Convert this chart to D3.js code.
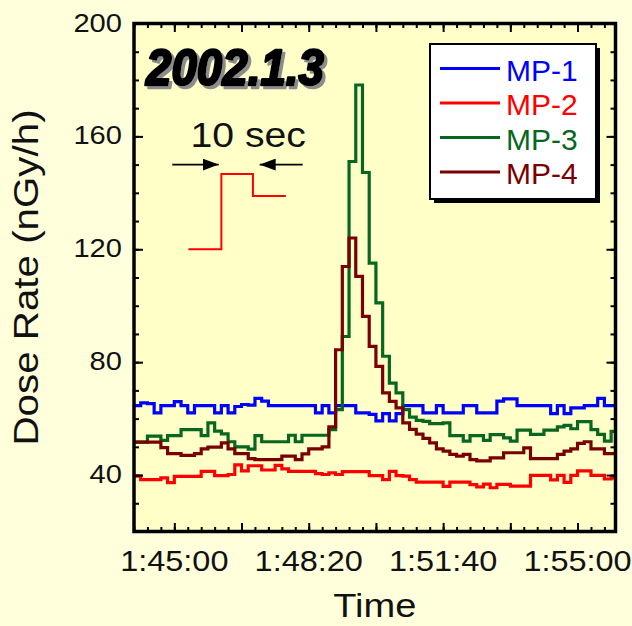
<!DOCTYPE html>
<html>
<head>
<meta charset="utf-8">
<script src="https://cdn.jsdelivr.net/npm/d3@7"></script>
<style>
  html, body { margin: 0; padding: 0; background: #ffffdc; }
  svg { display: block; }
  text { font-family: "Liberation Sans", Arial, sans-serif; }
</style>
</head>
<body>
<div id="chart"></div>
<script>
// time in seconds of day, 1:44:00 = 6240, one sample every 10 s
const startSec = 6240;
const endSec = 6956.5;
const stepSec = 10;

const seriesNames = ["MP-1", "MP-2", "MP-3", "MP-4"];
const seriesColors = ["#0000ff", "#ff0000", "#08661e", "#7a0000"];

const mp1 = [64.6, 65.6, 65.3, 62.0, 64.6, 64.6, 66.0, 64.6, 62.0, 64.6,
             64.6, 64.6, 62.0, 64.6, 62.0, 64.3, 65.0, 64.8, 67.2, 66.2,
             64.6, 64.6, 64.6, 64.6, 64.6, 64.6, 64.6, 62.0, 64.6, 62.0,
             64.6, 64.6, 64.6, 62.0, 62.0, 61.5, 59.2, 61.8, 59.2, 61.8,
             64.6, 64.6, 64.6, 62.0, 62.0, 64.6, 62.0, 62.0, 62.0, 64.6,
             64.6, 62.0, 62.0, 62.0, 66.2, 67.0, 67.0, 64.6, 64.6, 64.6,
             64.6, 64.6, 61.8, 64.6, 61.8, 63.8, 63.8, 64.6, 64.6, 67.2,
             64.6, 64.6];

const mp2 = [39.6, 38.4, 38.4, 38.4, 39.0, 37.3, 39.5, 39.5, 39.5, 39.5,
             41.3, 41.3, 39.8, 39.8, 40.2, 43.6, 41.5, 43.3, 43.3, 41.8,
             41.8, 43.4, 42.2, 41.3, 41.3, 41.3, 41.3, 40.5, 40.2, 40.8,
             40.2, 41.2, 41.2, 41.2, 41.2, 39.8, 39.8, 38.4, 41.3, 39.8,
             39.6, 38.4, 37.5, 37.5, 37.5, 37.5, 36.0, 37.5, 37.5, 37.5,
             36.6, 35.8, 36.8, 35.5, 36.7, 36.7, 36.1, 36.1, 36.1, 39.9,
             39.9, 39.9, 38.3, 39.9, 37.4, 39.9, 41.5, 41.5, 39.9, 39.9,
             38.6, 39.0];

const mp3 = [51.7, 51.7, 53.8, 53.8, 52.3, 54.0, 54.0, 56.1, 56.1, 56.1,
             54.0, 58.5, 55.6, 54.6, 51.8, 50.0, 50.0, 49.2, 54.0, 51.8,
             51.8, 51.8, 51.8, 54.1, 51.8, 54.1, 54.1, 54.1, 54.1, 56.1,
             63.2, 89.1, 151.1, 178.2, 147.2, 115.1, 101.0, 82.1, 72.6, 69.1,
             63.2, 60.5, 59.4, 59.0, 58.2, 58.2, 58.5, 54.0, 54.0, 52.0,
             54.0, 54.0, 52.3, 54.3, 54.3, 53.2, 52.0, 55.9, 55.9, 54.4,
             54.4, 55.9, 55.9, 57.1, 57.6, 56.4, 58.9, 58.9, 56.1, 54.4,
             52.0, 55.5];

const mp4 = [51.7, 51.7, 51.7, 51.7, 49.7, 47.6, 47.6, 47.0, 47.0, 47.6,
             49.3, 49.9, 49.9, 51.4, 49.3, 47.6, 47.6, 45.8, 45.5, 45.5,
             45.5, 45.5, 46.7, 46.7, 45.5, 47.5, 49.3, 49.3, 50.0, 57.1,
             84.4, 113.9, 124.0, 110.4, 96.2, 85.6, 78.5, 69.1, 66.1, 63.8,
             58.5, 56.2, 54.5, 53.0, 51.4, 49.3, 48.5, 47.3, 46.7, 47.3,
             45.5, 45.0, 45.0, 46.1, 46.1, 47.9, 47.9, 47.9, 49.6, 45.8,
             45.8, 45.8, 45.8, 47.3, 48.5, 49.3, 51.2, 51.8, 49.3, 49.3,
             47.6, 47.6];

const xMajorTicks = d3.range(6300, 6901, 100);
const xMinorTicks = d3.range(6240, 6957, 20);
const xLabelTicks = [6300, 6500, 6700, 6900];
const yMajorTicks = [40, 80, 120, 160, 200];
const yMinorTicks = d3.range(20, 201, 10);

// "10 sec" sketch: one step of MP-2 style trace
const insetTimes = [6321, 6370, 6417, 6466];
const insetValues = [120, 146.7, 138.9, 138.9];
const insetLabelTime = 6410;
const arrowLevel = 150;

const W = 632, H = 626;
const margin = { top: 23.5, right: 16.5, bottom: 94.5, left: 134 };
const plotW = W - margin.left - margin.right;
const plotH = H - margin.top - margin.bottom;
const stretch = 1.12;

const x = d3.scaleLinear().domain([startSec, endSec]).range([margin.left, margin.left + plotW]);
const y = d3.scaleLinear().domain([20, 200]).range([margin.top + plotH, margin.top]);

const fmt = s => {
    const pad = n => String(n).padStart(2, "0");
    return `${Math.floor(s / 3600)}:${pad(Math.floor(s % 3600 / 60))}:${pad(s % 60)}`;
};

const svg = d3.select("#chart").append("svg")
    .attr("width", W)
    .attr("height", H);

const defs = svg.append("defs");

svg.append("rect").attr("width", W).attr("height", H).attr("fill", "#ffffdc");

svg.append("rect")
    .attr("x", margin.left).attr("y", margin.top)
    .attr("width", plotW).attr("height", plotH)
    .attr("fill", "#ffffc8");

defs.append("clipPath").attr("id", "clip")
    .append("rect")
    .attr("x", margin.left).attr("y", margin.top)
    .attr("width", plotW).attr("height", plotH);

const line = d3.line()
    .x(d => x(d[0]))
    .y(d => y(d[1]))
    .curve(d3.curveStepAfter);

const allSeries = [mp1, mp2, mp3, mp4];
allSeries.forEach((vals, i) => {
    const pts = vals.map((v, k) => [startSec + k * stepSec, v]);
    pts.push([startSec + vals.length * stepSec, vals[vals.length - 1]]);
    svg.append("path")
        .datum(pts)
        .attr("clip-path", "url(#clip)")
        .attr("fill", "none")
        .attr("stroke", seriesColors[i])
        .attr("stroke-width", 3.2)
        .attr("d", line);
});

// ticks, inward on all four sides
function tickGroup(axis, tx, ty) {
    const g = svg.append("g").attr("transform", `translate(${tx},${ty})`).call(axis);
    g.select(".domain").remove();
    g.selectAll("line").attr("stroke", "#000").attr("stroke-width", 2);
    g.selectAll("text").remove();
}
tickGroup(d3.axisBottom(x).tickValues(xMinorTicks).tickSize(-4.5), 0, margin.top + plotH);
tickGroup(d3.axisBottom(x).tickValues(xMajorTicks).tickSize(-8.5), 0, margin.top + plotH);
tickGroup(d3.axisTop(x).tickValues(xMinorTicks).tickSize(-4.5), 0, margin.top);
tickGroup(d3.axisTop(x).tickValues(xMajorTicks).tickSize(-8.5), 0, margin.top);
tickGroup(d3.axisLeft(y).tickValues(yMinorTicks).tickSize(-5), margin.left, 0);
tickGroup(d3.axisLeft(y).tickValues(yMajorTicks).tickSize(-9), margin.left, 0);
tickGroup(d3.axisRight(y).tickValues(yMinorTicks).tickSize(-5), margin.left + plotW, 0);
tickGroup(d3.axisRight(y).tickValues(yMajorTicks).tickSize(-9), margin.left + plotW, 0);

svg.append("rect")
    .attr("x", margin.left).attr("y", margin.top)
    .attr("width", plotW).attr("height", plotH)
    .attr("fill", "none")
    .attr("stroke", "#000")
    .attr("stroke-width", 3.5);

// tick labels
svg.append("g").selectAll("text")
    .data(yMajorTicks)
    .join("text")
    .attr("transform", d => `translate(${margin.left - 12},${y(d) + 8}) scale(${stretch},1)`)
    .attr("text-anchor", "end")
    .attr("font-size", 26)
    .attr("fill", "#111")
    .text(d => d);

svg.append("g").selectAll("text")
    .data(xLabelTicks)
    .join("text")
    .attr("transform", d => `translate(${x(d)},${571}) scale(${stretch},1)`)
    .attr("text-anchor", "middle")
    .attr("font-size", 29)
    .attr("fill", "#111")
    .text(d => fmt(d));

// axis titles
svg.append("text")
    .attr("transform", `translate(${margin.left + plotW / 2},${617}) scale(${stretch},1)`)
    .attr("text-anchor", "middle")
    .attr("font-size", 34)
    .attr("fill", "#111")
    .text("Time");

svg.append("text")
    .attr("transform", `translate(38,${margin.top + plotH / 2}) rotate(-90) scale(${stretch},1)`)
    .attr("text-anchor", "middle")
    .attr("font-size", 36)
    .attr("fill", "#111")
    .text("Dose Rate (nGy/h)");

// date title with grey drop shadow
const shadow = defs.append("filter").attr("id", "shadow")
    .attr("x", "-10%").attr("y", "-20%").attr("width", "130%").attr("height", "150%");
shadow.append("feDropShadow")
    .attr("dx", 3).attr("dy", 3)
    .attr("stdDeviation", 0.6)
    .attr("flood-color", "#8c8c8c")
    .attr("flood-opacity", 1);

svg.append("text")
    .attr("x", 146).attr("y", 85)
    .attr("font-size", 50)
    .attr("font-weight", "bold")
    .attr("font-style", "italic")
    .attr("textLength", 178)
    .attr("lengthAdjust", "spacingAndGlyphs")
    .attr("fill", "#000")
    .attr("stroke", "#000")
    .attr("stroke-width", 2.5)
    .attr("stroke-linejoin", "round")
    .attr("filter", "url(#shadow)")
    .text("2002.1.3");

// 10 sec sketch
const insetPts = insetTimes.map((t, i) => [t, insetValues[i]]);
svg.append("path")
    .datum(insetPts)
    .attr("fill", "none")
    .attr("stroke", "#ff0000")
    .attr("stroke-width", 2)
    .attr("d", line);

svg.append("text")
    .attr("transform", `translate(${x(insetLabelTime)},${147}) scale(${stretch},1)`)
    .attr("text-anchor", "middle")
    .attr("font-size", 35)
    .attr("fill", "#111")
    .text("10 sec");

defs.append("marker")
    .attr("id", "arrow")
    .attr("viewBox", "0 0 16 12")
    .attr("refX", 16).attr("refY", 6)
    .attr("markerWidth", 16).attr("markerHeight", 12)
    .attr("markerUnits", "userSpaceOnUse")
    .attr("orient", "auto")
    .append("path")
    .attr("d", "M0,0 L16,6 L0,12 Z")
    .attr("fill", "#000");

const arrows = [[6297, insetTimes[1] - 4], [6491, insetTimes[2] + 10]];
arrows.forEach(([from, to]) => {
    svg.append("line")
        .attr("x1", x(from)).attr("x2", x(to))
        .attr("y1", y(arrowLevel)).attr("y2", y(arrowLevel))
        .attr("stroke", "#000")
        .attr("stroke-width", 1.6)
        .attr("marker-end", "url(#arrow)");
});

// legend
const lg = { x: 430, y: 44, w: 166, h: 155 };
svg.append("rect")
    .attr("x", lg.x + 4).attr("y", lg.y + 4)
    .attr("width", lg.w).attr("height", lg.h)
    .attr("fill", "#000");
svg.append("rect")
    .attr("x", lg.x).attr("y", lg.y)
    .attr("width", lg.w).attr("height", lg.h)
    .attr("fill", "#fff")
    .attr("stroke", "#000")
    .attr("stroke-width", 2);

seriesNames.forEach((name, i) => {
    const ly = 68.5 + i * 34.5;
    svg.append("line")
        .attr("x1", 440).attr("x2", 500)
        .attr("y1", ly).attr("y2", ly)
        .attr("stroke", seriesColors[i])
        .attr("stroke-width", 3.2);
    svg.append("text")
        .attr("x", 506).attr("y", ly + 12)
        .attr("font-size", 30)
        .attr("fill", seriesColors[i])
        .text(name);
});
</script>
</body>
</html>
